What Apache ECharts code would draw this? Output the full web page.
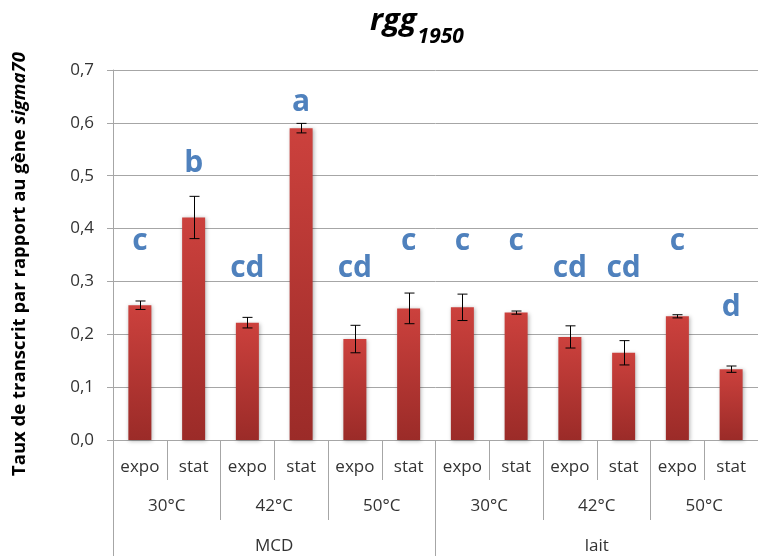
<!DOCTYPE html>
<html><head><meta charset="utf-8">
<script src="https://cdn.jsdelivr.net/npm/echarts@6/dist/echarts.min.js"></script>
<style>html,body{margin:0;padding:0;background:#fff}#c{width:758px;height:556px}</style>
</head><body><div id="c"></div>
<script>
// ---- data ----
const phases = ['expo','stat','expo','stat','expo','stat','expo','stat','expo','stat','expo','stat'];
const temperatures = ['30°C','42°C','50°C','30°C','42°C','50°C'];
const media = ['MCD','lait'];
const values = [0.255, 0.421, 0.222, 0.590, 0.191, 0.249, 0.251, 0.241, 0.195, 0.165, 0.234, 0.134];
const errors = [0.008, 0.040, 0.010, 0.009, 0.026, 0.029, 0.025, 0.003, 0.021, 0.023, 0.003, 0.006];
const letters = ['c','b','cd','a','cd','c','c','c','cd','cd','c','d'];
const letterLevels = [0.375, 0.523, 0.325, 0.638, 0.325, 0.375, 0.375, 0.375, 0.325, 0.325, 0.375, 0.25];
const yMin = 0, yMax = 0.7, yStep = 0.1;

// ---- chart ----
const FONT = 'Open Sans';
const GRAY = '#A6A6A6';
const TXT = '#333333';
const gridBox = {left: 113, right: -9, top: 70, bottom: 116, containLabel: false};
const chart = echarts.init(document.getElementById('c'), null, {renderer: 'canvas'});

const hiddenY = (gi) => ({type: 'value', gridIndex: gi, min: yMin, max: yMax, show: false});

const option = {
  animation: false,
  backgroundColor: '#fff',
  grid: [Object.assign({}, gridBox), Object.assign({}, gridBox), Object.assign({}, gridBox)],
  xAxis: [
    {type: 'category', gridIndex: 0, data: phases, boundaryGap: true,
     axisLine: {show: true, lineStyle: {color: GRAY, width: 1}},
     axisTick: {show: true, interval: 0, length: 40, lineStyle: {color: GRAY}},
     axisLabel: {interval: 0, margin: 19, color: TXT, fontFamily: FONT, fontSize: 17, lineHeight: 17},
     splitLine: {show: false}},
    {type: 'category', gridIndex: 1, data: temperatures, boundaryGap: true,
     axisLine: {show: false},
     axisTick: {show: true, interval: 0, length: 80, lineStyle: {color: GRAY}},
     axisLabel: {interval: 0, margin: 58, color: TXT, fontFamily: FONT, fontSize: 17, lineHeight: 17},
     splitLine: {show: false}},
    {type: 'category', gridIndex: 2, data: media, boundaryGap: true,
     axisLine: {show: false},
     axisTick: {show: true, interval: 0, length: 130, lineStyle: {color: GRAY}},
     axisLabel: {interval: 0, margin: 98, color: TXT, fontFamily: FONT, fontSize: 17, lineHeight: 17},
     splitLine: {show: false}}
  ],
  yAxis: [
    {type: 'value', gridIndex: 0, min: yMin, max: yMax, interval: yStep,
     axisLine: {show: true, lineStyle: {color: GRAY}},
     axisTick: {show: true, length: 6, lineStyle: {color: GRAY}},
     splitLine: {show: true, lineStyle: {color: GRAY, width: 1}},
     axisLabel: {margin: 19, color: TXT, fontFamily: FONT, fontSize: 17,
       formatter: v => v.toFixed(1).replace('.', ',')}},
    hiddenY(1), hiddenY(2)
  ],
  graphic: [
    {type: 'text', left: 370, top: 6, z: 10,
     style: {text: '{a|rgg}{b|1950}',
       rich: {
         a: {fontFamily: FONT, fontSize: 31, fontWeight: 'bold', fontStyle: 'italic', fill: '#000', lineHeight: 36, verticalAlign: 'top'},
         b: {fontFamily: FONT, fontSize: 21, fontWeight: 'bold', fontStyle: 'italic', fill: '#000', lineHeight: 30, padding: [21, 0, 0, 1], verticalAlign: 'top'}
       }}},
    {type: 'text', x: 20, y: 264, rotation: Math.PI / 2, z: 10,
     style: {text: '{a|Taux de transcrit par rapport au gène }{b|sigma70}', align: 'center', verticalAlign: 'middle',
       rich: {
         a: {fontFamily: FONT, fontSize: 18.5, fontWeight: 'bold', fill: '#000'},
         b: {fontFamily: FONT, fontSize: 18.5, fontWeight: 'bold', fontStyle: 'italic', fill: '#000'}
       }}}
  ],
  series: [
    {type: 'bar', xAxisIndex: 0, yAxisIndex: 0, data: values, barWidth: 23,
     itemStyle: {
       color: new echarts.graphic.LinearGradient(0, 0, 0, 1, [
         {offset: 0, color: '#CC413D'}, {offset: 1, color: '#9B2B28'}]),
       shadowBlur: 4, shadowColor: 'rgba(0,0,0,0.3)', shadowOffsetX: 1, shadowOffsetY: 1
     }, z: 2},
    {type: 'custom', xAxisIndex: 0, yAxisIndex: 0, z: 5,
     data: values.map((v, i) => [i, v - errors[i], v + errors[i]]),
     encode: {x: 0, y: [1, 2]},
     renderItem: (params, api) => {
       const lo = api.coord([api.value(0), api.value(1)]);
       const hi = api.coord([api.value(0), api.value(2)]);
       const cx = Math.round(lo[0]) + 0.5;
       const st = {stroke: '#000', lineWidth: 1};
       return {type: 'group', children: [
         {type: 'line', shape: {x1: cx, y1: hi[1], x2: cx, y2: lo[1]}, style: st},
         {type: 'line', shape: {x1: cx - 5, y1: hi[1], x2: cx + 5, y2: hi[1]}, style: st},
         {type: 'line', shape: {x1: cx - 5, y1: lo[1], x2: cx + 5, y2: lo[1]}, style: st}
       ]};
     }},
    {type: 'custom', xAxisIndex: 0, yAxisIndex: 0, z: 6,
     data: letterLevels.map((v, i) => [i, v]),
     encode: {x: 0, y: 1},
     renderItem: (params, api) => {
       const p = api.coord([api.value(0), api.value(1)]);
       return {type: 'text', x: p[0], y: p[1],
         style: {text: letters[params.dataIndex], fill: '#4F81BD', fontFamily: FONT, fontSize: 30, fontWeight: 'bold',
           align: 'center', verticalAlign: 'middle'}};
     }}
  ]
};
chart.setOption(option);
</script></body></html>
